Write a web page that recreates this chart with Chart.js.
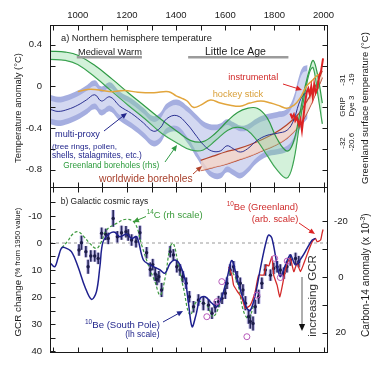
<!DOCTYPE html>
<html>
<head>
<meta charset="utf-8">
<script src="https://cdn.jsdelivr.net/npm/chart.js@4.4.1/dist/chart.umd.min.js"></script>
<style>
  html, body { margin: 0; padding: 0; background: #fff; }
  #wrap { position: relative; width: 380px; height: 369px; overflow: hidden; }
  canvas { position: absolute; left: 0; }
  #cb { top: 180px; }
  #ca { top: 0; }
</style>
</head>
<body>
<div id="wrap">
  <canvas id="cb" width="380" height="189"></canvas>
  <canvas id="ca" width="380" height="188"></canvas>
</div>
<script>
var FONT = "'Liberation Sans', Arial, sans-serif";
var YEAR_MIN = 887, YEAR_MAX = 2014;

// ---- shared axis ticks
var yearTicks = [900, 1000, 1100, 1200, 1300, 1400, 1500, 1600, 1700, 1800, 1900, 2000];
var tempTicks = [-0.8, -0.6, -0.4, -0.2, 0, 0.2, 0.4];
var tempLabels = ['0.4', '0', '-0.4', '-0.8'];
var gcrTicks = [-15, -10, -5, 0, 5, 10, 15, 20, 25, 30, 35, 40];
var gcrLabels = ['-10', '0', '10', '20', '30', '40'];
var c14Ticks = [-20, -10, 0, 10, 20];
var c14Labels = ['-20', '0', '20'];

// ---- panel a: northern hemisphere temperature (deg C)
var proxyYears = [887, 920, 960, 1000, 1035, 1069, 1096, 1131, 1171, 1219, 1267, 1307, 1335, 1362, 1403, 1444, 1484, 1511, 1545, 1580, 1607, 1634, 1661, 1690, 1729, 1770, 1811, 1852, 1879, 1899, 1915, 1935];
var proxyMid = [-0.22, -0.24, -0.22, -0.18, -0.13, -0.08, -0.14, -0.10, -0.19, -0.26, -0.35, -0.43, -0.40, -0.31, -0.28, -0.36, -0.48, -0.56, -0.62, -0.62, -0.57, -0.60, -0.63, -0.60, -0.52, -0.47, -0.45, -0.42, -0.32, -0.17, -0.09, -0.05];
var proxyErr = [0.085, 0.085, 0.085, 0.085, 0.085, 0.085, 0.085, 0.085, 0.085, 0.09, 0.09, 0.09, 0.09, 0.09, 0.1, 0.12, 0.15, 0.17, 0.2, 0.21, 0.2, 0.2, 0.2, 0.18, 0.16, 0.15, 0.15, 0.15, 0.17, 0.2, 0.22, 0.2];

var hockeyYears = [1000, 1040, 1070, 1100, 1140, 1190, 1245, 1310, 1370, 1400, 1420, 1445, 1470, 1500, 1540, 1580, 1620, 1660, 1700, 1745, 1785, 1825, 1850, 1880, 1905, 1930, 1955, 1980];
var hockeyVals = [-0.05, -0.03, -0.03, -0.04, -0.05, -0.04, -0.055, -0.06, -0.05, -0.09, -0.11, -0.14, -0.20, -0.18, -0.13, -0.16, -0.18, -0.19, -0.16, -0.14, -0.16, -0.19, -0.21, -0.18, -0.11, 0.0, 0.06, 0.12];

var greenYears = [887, 950, 1000, 1070, 1140, 1205, 1273, 1341, 1409, 1460, 1510, 1560, 1610, 1650, 1690, 1730, 1770, 1810, 1850, 1875, 1900, 1925, 1945, 1958, 1975, 1995];
var greenHi = [0.34, 0.33, 0.30, 0.20, 0.07, -0.06, -0.19, -0.32, -0.44, -0.52, -0.53, -0.45, -0.33, -0.25, -0.21, -0.21, -0.30, -0.50, -0.62, -0.55, -0.30, 0.0, 0.18, 0.25, 0.12, -0.16];
var greenLo = [0.26, 0.25, 0.21, 0.09, -0.05, -0.18, -0.31, -0.45, -0.55, -0.61, -0.61, -0.52, -0.42, -0.39, -0.42, -0.52, -0.66, -0.80, -0.88, -0.75, -0.40, -0.05, 0.15, 0.18, -0.05, -0.36];

var wwYears = [1500, 1550, 1600, 1650, 1700, 1750, 1800, 1850, 1900, 1940, 1975, 1995];
var wwHi = [-0.71, -0.67, -0.63, -0.60, -0.56, -0.51, -0.45, -0.37, -0.26, -0.11, 0.04, 0.15];
var wwLo = [-0.81, -0.78, -0.75, -0.71, -0.67, -0.62, -0.57, -0.50, -0.38, -0.22, -0.03, 0.085];

var instYears = [1865, 1872, 1879, 1885, 1892, 1900, 1906, 1912, 1918, 1925, 1932, 1938, 1944, 1950, 1956, 1962, 1968, 1975, 1982, 1990, 1998];
var instVals = [-0.26, -0.30, -0.27, -0.33, -0.30, -0.37, -0.32, -0.42, -0.30, -0.15, -0.05, -0.02, -0.08, 0.0, -0.10, 0.02, -0.06, -0.02, 0.10, 0.15, 0.27];

var periodNames = ['Medieval Warm', 'Little Ice Age'];
var periodStart = [996, 1449];
var periodEnd = [1261, 1857];
var PERIOD_Y = 0.28;

// ---- panel b: galactic cosmic rays
var beSpYears = [887, 906, 920, 933, 947, 974, 1001, 1029, 1056, 1076, 1090, 1103, 1131, 1151, 1171, 1199, 1219, 1240, 1267, 1294, 1335, 1355, 1376, 1396, 1416, 1437, 1450, 1465, 1480, 1498, 1518, 1546, 1566, 1590, 1610, 1627, 1648, 1668, 1688, 1702, 1722, 1743, 1757, 1770, 1777, 1790, 1811, 1824, 1845, 1865, 1886, 1913, 1933, 1954, 1967];
var beSpVals = [7.3, 8.8, 5.5, 2.0, 1.7, 3.2, 8.8, 16.2, 20.9, 18.0, 8.8, -0.5, -3.6, -4.0, -2.3, -3.3, -1.7, -2.3, 6.3, 8.1, 10.0, 11.2, 7.5, 6.3, 8.1, 13.7, 22.0, 31.0, 27.0, 20.5, 19.9, 22.3, 23.6, 19.0, 12.0, 6.5, 13.1, 19.3, 24.2, 25.0, 19.3, 9.4, 3.2, -1.7, -3.0, -1.7, 8.1, 12.5, 8.1, 4.4, 8.1, 5.1, 2.0, -1.1, -1.7];

var c14Years = [935, 960, 980, 1001, 1025, 1049, 1076, 1095, 1117, 1158, 1199, 1233, 1260, 1287, 1314, 1335, 1355, 1376, 1389, 1409, 1430, 1457, 1484, 1524, 1552, 1593, 1620, 1648, 1675, 1695, 1716];
var c14Vals = [-10.5, -13.0, -15.5, -16.3, -14.5, -12.1, -10.3, -12.5, -16.9, -19.3, -20.8, -19.3, -11.5, -4.3, 1.7, 6.5, 0.5, -10.9, -12.1, -4.3, 4.0, 13.7, 8.9, 10.1, 14.3, 5.3, -1.9, 1.7, 12.5, 14.9, 10.1];

var gcrYears = [1005, 1015, 1033, 1042, 1053, 1069, 1083, 1097, 1114, 1124, 1144, 1161, 1178, 1196, 1205, 1219, 1237, 1253, 1280, 1295, 1305, 1315, 1322, 1330, 1341, 1376, 1389, 1403, 1416, 1427, 1441, 1454, 1471, 1491, 1511, 1532, 1546, 1559, 1573, 1587, 1600, 1607, 1620, 1634, 1648, 1661, 1672, 1682, 1695, 1702, 1713, 1722, 1736, 1749, 1763, 1784, 1797, 1811, 1824, 1838, 1851, 1865, 1886, 1899];
var gcrVals = [2.6, -0.1, 3.2, 8.8, 4.8, 4.8, 5.7, -3.6, -3.2, -1.7, -9.1, -2.3, -3.8, -4.2, -3.0, -1.1, -0.5, -3.8, 3.6, 9.8, 8.0, 11.5, 13.5, 12.5, 17.4, 3.2, 4.4, 8.8, 10.0, 12.5, 14.9, 19.9, 23.6, 21.1, 22.3, 23.0, 26.0, 23.6, 21.7, 20.5, 18.6, 14.9, 10.0, 8.8, 12.5, 14.9, 17.4, 22.3, 27.3, 29.1, 29.8, 23.6, 19.9, 14.9, 10.0, 11.9, 9.4, 8.8, 10.0, 11.2, 8.8, 6.3, 5.7, 6.9];
var gcrErr = [2, 2.5, 2, 2.5, 2, 2, 2, 2, 2, 2, 3, 2, 2.5, 2, 2, 2, 2, 2.5, 2, 2.5, 2, 2.5, 2, 2, 2.5, 2, 2, 2, 2, 2, 2, 2, 2, 2, 2.5, 2, 2, 2, 2, 2, 2, 2, 2, 2, 2, 2, 2, 2.5, 2.5, 2.5, 2.5, 2.5, 2.5, 2, 2, 2, 2, 2, 2, 2, 2, 2, 2, 2];

var circYears = [1525, 1566, 1586, 1688, 1729, 1801, 1824, 1852];
var circVals = [27.3, 21.7, 14.3, 34.7, 19.3, 5.7, 12.8, 6.7];

var beGrYears = [1614, 1627, 1634, 1650, 1668, 1682, 1702, 1722, 1736, 1757, 1767, 1777, 1790, 1797, 1811, 1822, 1838, 1851, 1865, 1879, 1892, 1906, 1920, 1940, 1954, 1967, 1974, 1988, 1994, 1998];
var beGrVals = [8.8, 11.9, 15.6, 18.0, 20.5, 24.2, 23.0, 18.0, 11.9, 11.9, 8.1, 8.5, 5.1, 11.9, 15.6, 19.9, 13.1, 7.5, 5.7, 10.6, 7.5, 10.6, 7.5, 2.6, -0.5, -1.7, -0.5, -1.1, -3.6, -5.0];

// ---- helpers
function pts(xs, ys) {
  return xs.map(function (x, i) { return { x: x, y: ys[i] }; });
}
function edge(xs, mid, err, extra, sign) {
  return xs.map(function (x, i) { return { x: x, y: mid[i] + sign * (err[i] + extra) }; });
}
function hasLabel(list, v) {
  return list.indexOf(String(Math.round(v * 100) / 100)) >= 0;
}
// fixed axis size, and no extra room for label overhang
function fixSize(prop, size) {
  return function (s) {
    s[prop] = size;
    s.paddingTop = 0; s.paddingBottom = 0; s.paddingLeft = 0; s.paddingRight = 0;
  };
}

var TICK = 5;

function drawLabel(ctx, it, top) {
  var base = it.size || 9.5;
  var parts = it.parts || [{ s: it.s }];
  function font(p, k) {
    var sz = (p.sup ? base * 0.68 : (p.size || base)) * k;
    return sz.toFixed(2) + 'px ' + FONT;
  }
  var total = 0;
  parts.forEach(function (p) { ctx.font = font(p, 1); total += ctx.measureText(p.s).width; });
  var k = it.w ? it.w / total : 1;
  var width = total * k;
  ctx.save();
  ctx.translate(it.x, it.y - top);
  if (it.rot) ctx.rotate(-Math.PI / 2);
  var x = it.align === 'center' ? -width / 2 : it.align === 'right' ? -width : 0;
  ctx.textAlign = 'left';
  ctx.textBaseline = 'middle';
  ctx.fillStyle = it.c || '#1a1a1a';
  parts.forEach(function (p) {
    ctx.font = font(p, k);
    ctx.fillText(p.s, x, p.sup ? -base * k * 0.32 : 0);
    x += ctx.measureText(p.s).width;
  });
  ctx.restore();
}

function drawArrow(ctx, ar, top) {
  var y1 = ar.y1 - top, y2 = ar.y2 - top;
  var ang = Math.atan2(y2 - y1, ar.x2 - ar.x1);
  var hl = ar.head || 6, hw = hl * 0.45;
  var cs = Math.cos(ang), sn = Math.sin(ang);
  ctx.save();
  ctx.strokeStyle = ar.c;
  ctx.lineWidth = ar.lw || 1;
  ctx.beginPath();
  ctx.moveTo(ar.x1, y1);
  ctx.lineTo(ar.x2 - cs * hl * 0.8, y2 - sn * hl * 0.8);
  ctx.stroke();
  ctx.fillStyle = ar.hc || ar.c;
  ctx.beginPath();
  ctx.moveTo(ar.x2, y2);
  ctx.lineTo(ar.x2 - hl * cs + hw * sn, y2 - hl * sn - hw * cs);
  ctx.lineTo(ar.x2 - hl * cs - hw * sn, y2 - hl * sn + hw * cs);
  ctx.closePath();
  ctx.fill();
  ctx.restore();
}

// frame, inward tick marks, annotations
function makeDeco(cfg) {
  return {
    id: 'deco',
    afterDraw: function (chart) {
      var ctx = chart.ctx, a = chart.chartArea;
      var xs = chart.scales.x, yl = chart.scales[cfg.left], yr = chart.scales[cfg.right];
      var L = Math.round(a.left) + 0.5, R = Math.round(a.right) + 0.5;
      var T = Math.round(a.top) + 0.5, B = Math.round(a.bottom) + 0.5;
      ctx.save();
      ctx.strokeStyle = '#1a1a1a';
      ctx.lineWidth = 1;
      ctx.strokeRect(L, T, R - L, B - T);
      ctx.beginPath();
      yearTicks.forEach(function (v) {
        var px = Math.round(xs.getPixelForValue(v)) + 0.5;
        ctx.moveTo(px, T); ctx.lineTo(px, T + TICK);
        ctx.moveTo(px, B); ctx.lineTo(px, B - TICK);
      });
      cfg.leftTicks.forEach(function (v) {
        var py = Math.round(yl.getPixelForValue(v)) + 0.5;
        ctx.moveTo(L, py); ctx.lineTo(L + TICK, py);
      });
      cfg.rightTicks.forEach(function (v) {
        var py = Math.round(yr.getPixelForValue(v)) + 0.5;
        ctx.moveTo(R, py); ctx.lineTo(R - TICK, py);
      });
      ctx.stroke();
      ctx.restore();
      cfg.arrows.forEach(function (ar) { drawArrow(ctx, ar, cfg.top); });
      cfg.labels.forEach(function (it) { drawLabel(ctx, it, cfg.top); });
    }
  };
}

Chart.defaults.font.family = FONT;
Chart.defaults.color = '#1a1a1a';

var NAVY = '#22268c';
var GREEN = '#2f9a45';
var BROWN = '#b3432b';
var RED = '#dc2323';
var ORANGE = '#e2a53c';

// ---------------- panel a
var decoA = makeDeco({
  top: 0, left: 'y', right: 'y', leftTicks: tempTicks, rightTicks: tempTicks,
  arrows: [
    { x1: 104, y1: 131, x2: 127, y2: 113, c: NAVY },
    { x1: 165, y1: 162, x2: 177, y2: 145, c: GREEN },
    { x1: 193, y1: 174, x2: 202, y2: 166, c: BROWN },
    { x1: 283, y1: 84, x2: 302, y2: 90, c: RED }
  ],
  labels: [
    { s: 'a) Northern hemisphere temperature', x: 61, y: 38.5, w: 151 },
    { s: periodNames[0], x: 78, y: 52.5, w: 64 },
    { s: periodNames[1], x: 205, y: 52.5, w: 61 },
    { s: 'instrumental', x: 228.3, y: 77, w: 50, c: '#d12a2a' },
    { s: 'hockey stick', x: 212.7, y: 94.5, w: 50.6, c: '#d9a03a' },
    { s: 'multi-proxy', x: 55, y: 134, w: 45, c: NAVY },
    { s: '(tree rings, pollen,', x: 52, y: 146.5, w: 65, c: NAVY },
    { s: 'shells, stalagmites, etc.)', x: 52, y: 155.5, w: 90, c: NAVY },
    { s: 'Greenland boreholes (rhs)', x: 63.3, y: 165.5, w: 96, c: '#2a9a3a' },
    { s: 'worldwide boreholes', x: 99, y: 179, w: 93.7, c: '#a8402c' },
    { s: 'Temperature anomaly (\u00b0C)', x: 18, y: 108, w: 110, rot: true, align: 'center' },
    { s: '-31', x: 342.5, y: 80, size: 8, rot: true, align: 'center' },
    { s: '-19', x: 351.5, y: 79, size: 8, rot: true, align: 'center' },
    { s: 'GRIP', x: 342.5, y: 107, size: 8, rot: true, align: 'center' },
    { s: 'Dye 3', x: 351.5, y: 106, size: 8, rot: true, align: 'center' },
    { s: '-32', x: 342.5, y: 143, size: 8, rot: true, align: 'center' },
    { s: '-20.6', x: 351.5, y: 142, size: 8, rot: true, align: 'center' },
    { s: 'Greenland surface temperature (\u00b0C)', x: 365, y: 108, w: 152, rot: true, align: 'center' }
  ]
});

var bandA = [
  { data: edge(proxyYears, proxyMid, proxyErr, 0.055, 1), fill: '+1', backgroundColor: '#a5aee0', borderWidth: 0, tension: 0.4, order: 20 },
  { data: edge(proxyYears, proxyMid, proxyErr, 0.055, -1), borderWidth: 0, tension: 0.4, order: 20 },
  { data: edge(proxyYears, proxyMid, proxyErr, 0, 1), fill: '+1', backgroundColor: '#d3d8f1', borderWidth: 0, tension: 0.4, order: 19 },
  { data: edge(proxyYears, proxyMid, proxyErr, 0, -1), borderWidth: 0, tension: 0.4, order: 19 },
  { data: pts(wwYears, wwHi), fill: '+1', backgroundColor: 'rgba(250,214,196,0.72)', borderColor: BROWN, borderWidth: 1.2, tension: 0.4, order: 16 },
  { data: pts(wwYears, wwLo), borderColor: BROWN, borderWidth: 1.2, tension: 0.4, order: 16 },
  { data: pts(greenYears, greenHi), fill: '+1', backgroundColor: 'rgba(130,215,150,0.35)', borderColor: GREEN, borderWidth: 1.2, tension: 0.4, order: 14 },
  { data: pts(greenYears, greenLo), borderColor: GREEN, borderWidth: 1.2, tension: 0.4, order: 14 },
  { data: pts(proxyYears, proxyMid), borderColor: '#2b3192', borderWidth: 1, tension: 0.4, order: 12 },
  { data: pts(hockeyYears, hockeyVals), borderColor: ORANGE, borderWidth: 1.5, tension: 0.4, order: 11 },
  { data: [{ x: periodStart[0], y: PERIOD_Y }, { x: periodEnd[0], y: PERIOD_Y }], borderColor: '#9b9b9b', borderWidth: 2.5, order: 10 },
  { data: [{ x: periodStart[1], y: PERIOD_Y }, { x: periodEnd[1], y: PERIOD_Y }], borderColor: '#9b9b9b', borderWidth: 2.5, order: 10 },
  { data: pts(instYears, instVals), borderColor: RED, borderWidth: 2, tension: 0, order: 1 }
];

new Chart(document.getElementById('ca'), {
  type: 'line',
  data: { datasets: bandA },
  options: {
    responsive: false,
    animation: false,
    devicePixelRatio: 1,
    layout: { padding: { left: 0, right: 53, top: 0, bottom: 1 } },
    elements: { point: { radius: 0 } },
    plugins: { legend: { display: false }, tooltip: { enabled: false } },
    scales: {
      x: {
        type: 'linear', position: 'top', min: YEAR_MIN, max: YEAR_MAX, offset: false,
        afterBuildTicks: function (s) { s.ticks = yearTicks.map(function (v) { return { value: v }; }); },
        afterFit: fixSize('height', 25),
        grid: { display: false, drawTicks: false },
        border: { display: false },
        ticks: {
          padding: 4, autoSkip: false, maxRotation: 0, color: '#1a1a1a', font: { size: 9.5 },
          callback: function (v) { return v % 200 === 0 ? String(v) : ''; }
        }
      },
      y: {
        type: 'linear', min: -0.966, max: 0.59,
        afterBuildTicks: function (s) { s.ticks = tempTicks.map(function (v) { return { value: v }; }); },
        afterFit: fixSize('width', 50),
        grid: { display: false, drawTicks: false },
        border: { display: false },
        ticks: {
          padding: 8, autoSkip: false, color: '#1a1a1a', font: { size: 9.5 },
          callback: function (v) { return hasLabel(tempLabels, v) ? String(Math.round(v * 10) / 10) : ''; }
        }
      }
    }
  },
  plugins: [decoA]
});

// ---------------- panel b
var decoB = makeDeco({
  top: 180, left: 'y', right: 'y2', leftTicks: gcrTicks, rightTicks: c14Ticks,
  arrows: [
    { x1: 146, y1: 216.5, x2: 133, y2: 222, c: '#3a9a3a' },
    { x1: 163, y1: 322, x2: 183, y2: 311, c: NAVY },
    { x1: 299, y1: 223, x2: 315, y2: 234, c: RED },
    { x1: 302, y1: 277, x2: 302, y2: 331, c: '#9a9a9a', hc: '#111', lw: 1.6, head: 7 }
  ],
  labels: [
    { s: 'b) Galactic cosmic rays', x: 60.7, y: 202, w: 87.6 },
    { parts: [{ s: '14', sup: true }, { s: 'C (rh scale)' }], x: 146.7, y: 215.7, w: 56, c: '#3a9a3a' },
    { parts: [{ s: '10', sup: true }, { s: 'Be (South Pole)' }], x: 85, y: 325.5, w: 75, c: NAVY },
    { s: '(lh scale)', x: 159.5, y: 335, w: 34.3, align: 'right', c: NAVY },
    { parts: [{ s: '10', sup: true }, { s: 'Be (Greenland)' }], x: 226.7, y: 207.5, w: 71.6, c: '#cf2c2c' },
    { s: '(arb. scale)', x: 298.3, y: 219, w: 46.6, align: 'right', c: '#cf2c2c' },
    { s: 'increasing GCR', x: 313.3, y: 296, w: 81.7, rot: true, align: 'center', c: '#333' },
    { parts: [{ s: 'GCR change ' }, { s: '(% from 1950 value)', size: 7.5 }], x: 18, y: 272, w: 129, rot: true, align: 'center' },
    { parts: [{ s: 'Carbon-14 anomaly (x 10' }, { s: '-3', sup: true }, { s: ')' }], x: 366, y: 275, w: 124, rot: true, align: 'center' }
  ]
});

new Chart(document.getElementById('cb'), {
  type: 'line',
  data: {
    datasets: [
      { data: [{ x: YEAR_MIN, y: 0 }, { x: YEAR_MAX, y: 0 }], borderColor: '#9a9a9a', borderWidth: 1, borderDash: [3, 3], order: 30 },
      {
        type: 'bar', grouped: false, barThickness: 3, backgroundColor: '#bdb7e6', borderWidth: 0, order: 26,
        data: gcrYears.map(function (yr, i) { return { x: yr, y: [gcrVals[i] - gcrErr[i], gcrVals[i] + gcrErr[i]] }; })
      },
      {
        type: 'bar', grouped: false, barThickness: 1, backgroundColor: '#2a2a5c', borderWidth: 0, order: 25,
        data: gcrYears.map(function (yr, i) { return { x: yr, y: [gcrVals[i] - gcrErr[i], gcrVals[i] + gcrErr[i]] }; })
      },
      { data: pts(c14Years, c14Vals), yAxisID: 'y2', borderColor: '#3f9a40', borderWidth: 1.2, borderDash: [3, 2], tension: 0.4, order: 22 },
      { data: pts(beGrYears, beGrVals), borderColor: '#d42a2a', borderWidth: 1.3, tension: 0.15, order: 16 },
      { data: pts(beSpYears, beSpVals), borderColor: '#1e208e', borderWidth: 1.5, tension: 0.35, order: 15 },
      { type: 'scatter', data: pts(gcrYears, gcrVals), pointRadius: 1.7, backgroundColor: '#1c1c48', borderWidth: 0, order: 18 },
      { type: 'scatter', data: pts(circYears, circVals), pointRadius: 3, borderColor: '#b65ab9', backgroundColor: 'rgba(255,255,255,0)', borderWidth: 1, order: 14 }
    ]
  },
  options: {
    responsive: false,
    animation: false,
    devicePixelRatio: 1,
    layout: { padding: { left: 0, right: 0, top: 7, bottom: 17 } },
    elements: { point: { radius: 0 } },
    plugins: { legend: { display: false }, tooltip: { enabled: false } },
    scales: {
      x: { type: 'linear', display: false, min: YEAR_MIN, max: YEAR_MAX, offset: false },
      y: {
        type: 'linear', reverse: true, min: -20.74, max: 40.37,
        afterBuildTicks: function (s) { s.ticks = gcrTicks.map(function (v) { return { value: v }; }); },
        afterFit: fixSize('width', 50),
        grid: { display: false, drawTicks: false },
        border: { display: false },
        ticks: {
          padding: 8, autoSkip: false, color: '#1a1a1a', font: { size: 9.5 },
          callback: function (v) { return hasLabel(gcrLabels, v) ? String(v) : ''; }
        }
      },
      y2: {
        type: 'linear', position: 'right', reverse: true, min: -32.4, max: 27.0,
        afterBuildTicks: function (s) { s.ticks = c14Ticks.map(function (v) { return { value: v }; }); },
        afterFit: fixSize('width', 53),
        grid: { display: false, drawTicks: false },
        border: { display: false },
        ticks: {
          padding: 7, autoSkip: false, crossAlign: 'center', color: '#1a1a1a', font: { size: 9.5 },
          callback: function (v) { return hasLabel(c14Labels, v) ? String(v) : ''; }
        }
      }
    }
  },
  plugins: [decoB]
});
</script>
</body>
</html>
